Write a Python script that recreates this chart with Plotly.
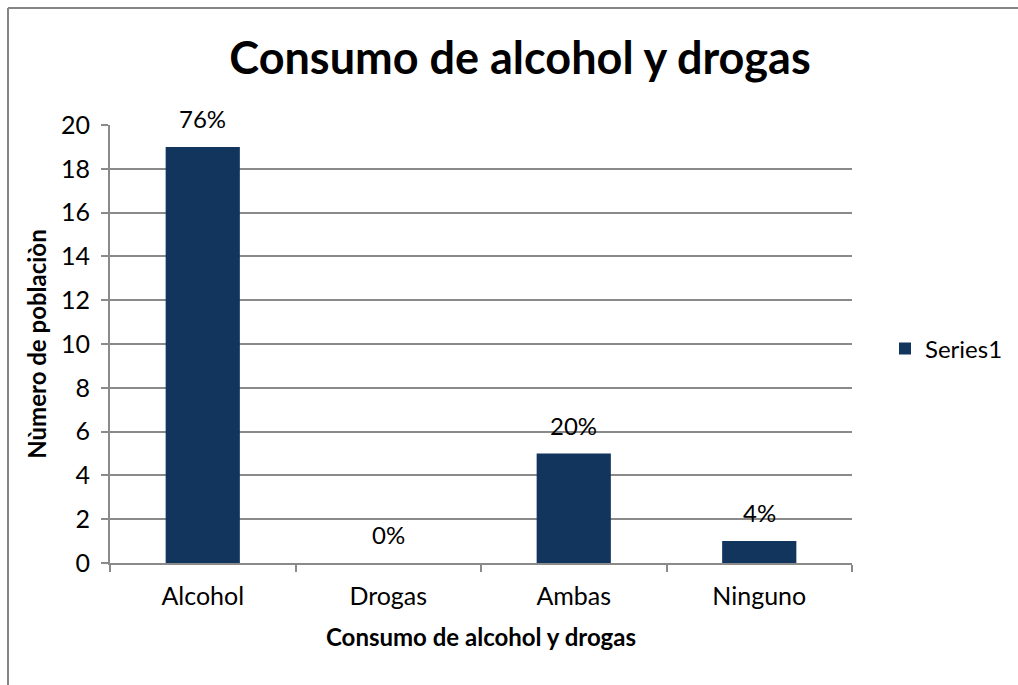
import plotly.graph_objects as go

categories = ["Alcohol", "Drogas", "Ambas", "Ninguno"]
values = [19, 0, 5, 1]
percent_labels = ["76%", "0%", "20%", "4%"]
y_ticks = [0, 2, 4, 6, 8, 10, 12, 14, 16, 18, 20]

BAR_COLOR = "#12355E"
GRID = "#8A8A8A"
FONT = "Lato, Carlito, Calibri, sans-serif"

fig = go.Figure()
fig.add_trace(go.Bar(
    x=categories,
    y=values,
    name="Series1",
    marker=dict(color=BAR_COLOR, line=dict(width=0)),
    showlegend=True,
))

# value labels placed a little above each bar
for cat, val, lab in zip(categories, values, percent_labels):
    fig.add_annotation(
        x=cat, y=val, text=lab, showarrow=False,
        yanchor="bottom", yshift=12,
        font=dict(family=FONT, size=24, color="#000000"),
    )

W, H = 1018, 685
L, R, T, B = 110, 166, 125, 122
pw, ph = W - L - R, H - T - B

# outer chart frame (top and left edges)
x0 = (8 - L) / pw
y0 = (H - 8 - B) / ph
fig.add_shape(type="line", xref="paper", yref="paper",
              x0=x0, x1=(W + 5 - L) / pw, y0=y0, y1=y0,
              line=dict(color="#858585", width=2))
fig.add_shape(type="line", xref="paper", yref="paper",
              x0=x0, x1=x0, y0=y0, y1=(-5 - B) / ph,
              line=dict(color="#858585", width=2))

fig.update_layout(
    width=W, height=H,
    margin=dict(l=L, r=R, t=T, b=B, autoexpand=False),
    paper_bgcolor="white", plot_bgcolor="white",
    bargap=0.6,
    font=dict(family=FONT, color="#000000"),
    title=dict(
        text="<b>Consumo de alcohol y drogas</b>",
        x=520 / W, xanchor="center", xref="container",
        y=1 - 58 / H, yanchor="middle", yref="container",
        font=dict(family=FONT, size=45, color="#000000"),
    ),
    legend=dict(
        x=(885 - L) / pw, xanchor="left",
        y=(H - 349 - B) / ph, yanchor="middle",
        font=dict(family=FONT, size=24, color="#000000"),
        bgcolor="rgba(0,0,0,0)",
        itemwidth=30,
    ),
    xaxis=dict(
        showline=True, linecolor=GRID, linewidth=2,
        ticks="outside", tickson="boundaries", ticklen=7, tickcolor=GRID, tickwidth=2,
        ticklabelstandoff=10,
        tickfont=dict(family=FONT, size=25, color="#000000"),
        title=dict(text="<b>Consumo de alcohol y drogas</b>", standoff=20,
                   font=dict(family=FONT, size=24, color="#000000")),
        showgrid=False,
    ),
    yaxis=dict(
        range=[0, 20], tickvals=y_ticks,
        showline=True, linecolor=GRID, linewidth=2,
        ticks="outside", ticklen=7, tickcolor=GRID, tickwidth=2,
        ticklabelstandoff=6,
        showgrid=True, gridcolor=GRID, gridwidth=1.5,
        zeroline=False,
        tickfont=dict(family=FONT, size=25, color="#000000"),
        title=dict(text="<b>Nùmero de poblaciòn</b>", standoff=8,
                   font=dict(family=FONT, size=24, color="#000000")),
    ),
)

fig.write_html("out.html")
